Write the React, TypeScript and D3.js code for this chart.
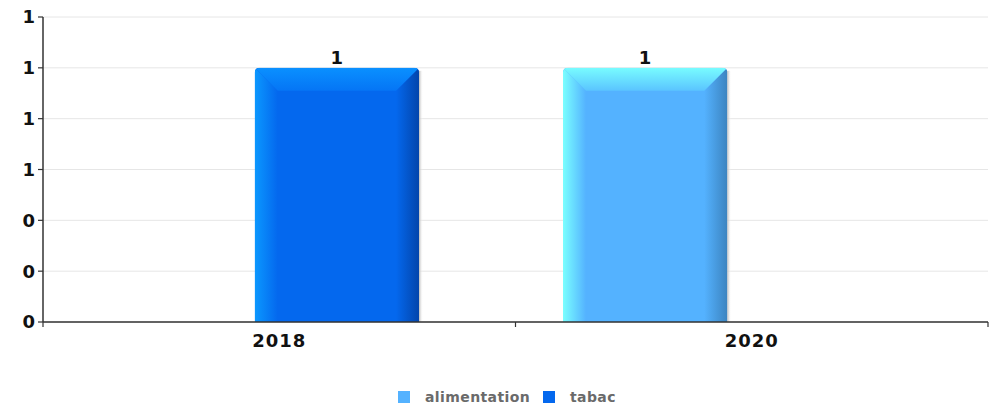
import React from "react";
import * as d3 from "d3";

const categories = ["2018", "2020"];
const seriesNames = ["alimentation", "tabac"];
const alimentation = [0, 1];
const tabac = [1, 0];
const yMax = 1.2;

const W = 994;
const H = 408;
const left = 43;
const right = 988;
const top = 17;
const bottom = 322;
const bevel = 23;

const palette: Record<string, { main: string; light: string; topLight: string; mid: string; dark: string; legend: string }> = {
  alimentation: { main: "#54b2ff", light: "#7affff", topLight: "#78fcff", mid: "#5ac4ff", dark: "#3c84c0", legend: "#54b2ff" },
  tabac: { main: "#0468ee", light: "#0b98ff", topLight: "#0a90ff", mid: "#0575f5", dark: "#0345ab", legend: "#0468ee" },
};

const FONT = "'DejaVu Sans', sans-serif";

export default function App() {
  const x0 = d3.scaleBand<string>().domain(categories).range([left, right]).padding(0);
  const bw = x0.bandwidth();
  const x1 = d3.scaleBand<string>().domain(seriesNames).range([bw * 0.1005, bw * 0.7958]).padding(0);
  const y = d3.scaleLinear().domain([0, yMax]).range([bottom, top]);
  const yTicks = y.ticks(6);
  const fmt = d3.format(".0f");
  const values: Record<string, number[]> = { alimentation, tabac };

  const bars: React.ReactNode[] = [];
  categories.forEach((c, ci) => {
    seriesNames.forEach((s) => {
      const v = values[s][ci];
      if (!v) return;
      const bx = (x0(c) as number) + (x1(s) as number);
      const w = x1.bandwidth();
      const by = y(v);
      const bb = y(0);
      const r = 5;
      const clipId = `clip-${s}-${ci}`;
      const outline = `M${bx},${bb} L${bx},${by + r} Q${bx},${by} ${bx + r},${by} L${bx + w - r},${by} Q${bx + w},${by} ${bx + w},${by + r} L${bx + w},${bb} Z`;
      bars.push(
        <g key={`${s}-${ci}`}>
          <rect x={bx + w} y={by + 3} width={4} height={bb - by - 3} fill="url(#shadowGrad)" />
          <clipPath id={clipId}>
            <path d={outline} />
          </clipPath>
          <g clipPath={`url(#${clipId})`}>
            <rect x={bx} y={by} width={w} height={bb - by} fill={palette[s].main} />
            <polygon
              points={`${bx},${by} ${bx + bevel},${by + bevel} ${bx + bevel},${bb} ${bx},${bb}`}
              fill={`url(#left-${s})`}
            />
            <polygon
              points={`${bx + w},${by} ${bx + w - bevel},${by + bevel} ${bx + w - bevel},${bb} ${bx + w},${bb}`}
              fill={`url(#right-${s})`}
            />
            <polygon
              points={`${bx},${by} ${bx + w},${by} ${bx + w - bevel},${by + bevel} ${bx + bevel},${by + bevel}`}
              fill={`url(#top-${s})`}
            />
          </g>
          <text
            x={bx + w / 2}
            y={by - 4}
            textAnchor="middle"
            fontFamily={FONT}
            fontWeight="bold"
            fontSize={18}
            fill="#111"
          >
            {fmt(v)}
          </text>
        </g>
      );
    });
  });

  const legendItems = [
    { name: "alimentation", sx: 398, tx: 425 },
    { name: "tabac", sx: 543, tx: 570 },
  ];

  return (
    <svg width={W} height={H} style={{ position: "absolute", left: 0, top: 0, background: "#fff" }}>
      <defs>
        <linearGradient id="shadowGrad" x1="0" x2="1" y1="0" y2="0">
          <stop offset="0" stopColor="#b8b8b8" />
          <stop offset="1" stopColor="#ffffff" stopOpacity="0" />
        </linearGradient>
        {seriesNames.map((s) => (
          <React.Fragment key={s}>
            <linearGradient id={`left-${s}`} x1="0" x2="1" y1="0" y2="0">
              <stop offset="0" stopColor={palette[s].light} />
              <stop offset="1" stopColor={palette[s].main} />
            </linearGradient>
            <linearGradient id={`right-${s}`} x1="0" x2="1" y1="0" y2="0">
              <stop offset="0" stopColor={palette[s].main} />
              <stop offset="1" stopColor={palette[s].dark} />
            </linearGradient>
            <linearGradient id={`top-${s}`} x1="0" x2="0" y1="0" y2="1">
              <stop offset="0" stopColor={palette[s].topLight} />
              <stop offset="1" stopColor={palette[s].mid} />
            </linearGradient>
          </React.Fragment>
        ))}
      </defs>

      {yTicks.map((t) => (
        <line key={`g${t}`} x1={left} x2={right} y1={y(t)} y2={y(t)} stroke="#e6e6e6" strokeWidth={1} />
      ))}

      {bars}

      {/* y axis */}
      <line x1={left} x2={left} y1={top} y2={bottom} stroke="#333" strokeWidth={1.5} />
      {yTicks.map((t) => (
        <g key={`yt${t}`}>
          <line x1={left - 5} x2={left} y1={y(t)} y2={y(t)} stroke="#333" strokeWidth={1.2} />
          <text
            x={left - 8}
            y={y(t)}
            dy="0.36em"
            textAnchor="end"
            fontFamily={FONT}
            fontWeight="bold"
            fontSize={18}
            fill="#111"
          >
            {fmt(t)}
          </text>
        </g>
      ))}

      {/* x axis */}
      <line x1={left} x2={right} y1={bottom} y2={bottom} stroke="#333" strokeWidth={1.5} />
      {[...categories.map((c) => x0(c) as number), right].map((tx, i) => (
        <line key={`xt${i}`} x1={tx} x2={tx} y1={bottom} y2={bottom + 5} stroke="#333" strokeWidth={1.2} />
      ))}
      {categories.map((c) => (
        <text
          key={`xl${c}`}
          x={(x0(c) as number) + bw / 2}
          y={bottom + 25}
          textAnchor="middle"
          fontFamily={FONT}
          fontWeight="bold"
          fontSize={18}
          letterSpacing={1}
          fill="#111"
        >
          {c}
        </text>
      ))}

      {/* legend */}
      {legendItems.map((it) => (
        <g key={it.name}>
          <rect x={it.sx} y={391} width={12} height={12} fill={palette[it.name].legend} />
          <text
            x={it.tx}
            y={402}
            fontFamily={FONT}
            fontWeight="bold"
            fontSize={14}
            letterSpacing={0.4}
            fill="#6a6a6a"
          >
            {it.name}
          </text>
        </g>
      ))}
    </svg>
  );
}
